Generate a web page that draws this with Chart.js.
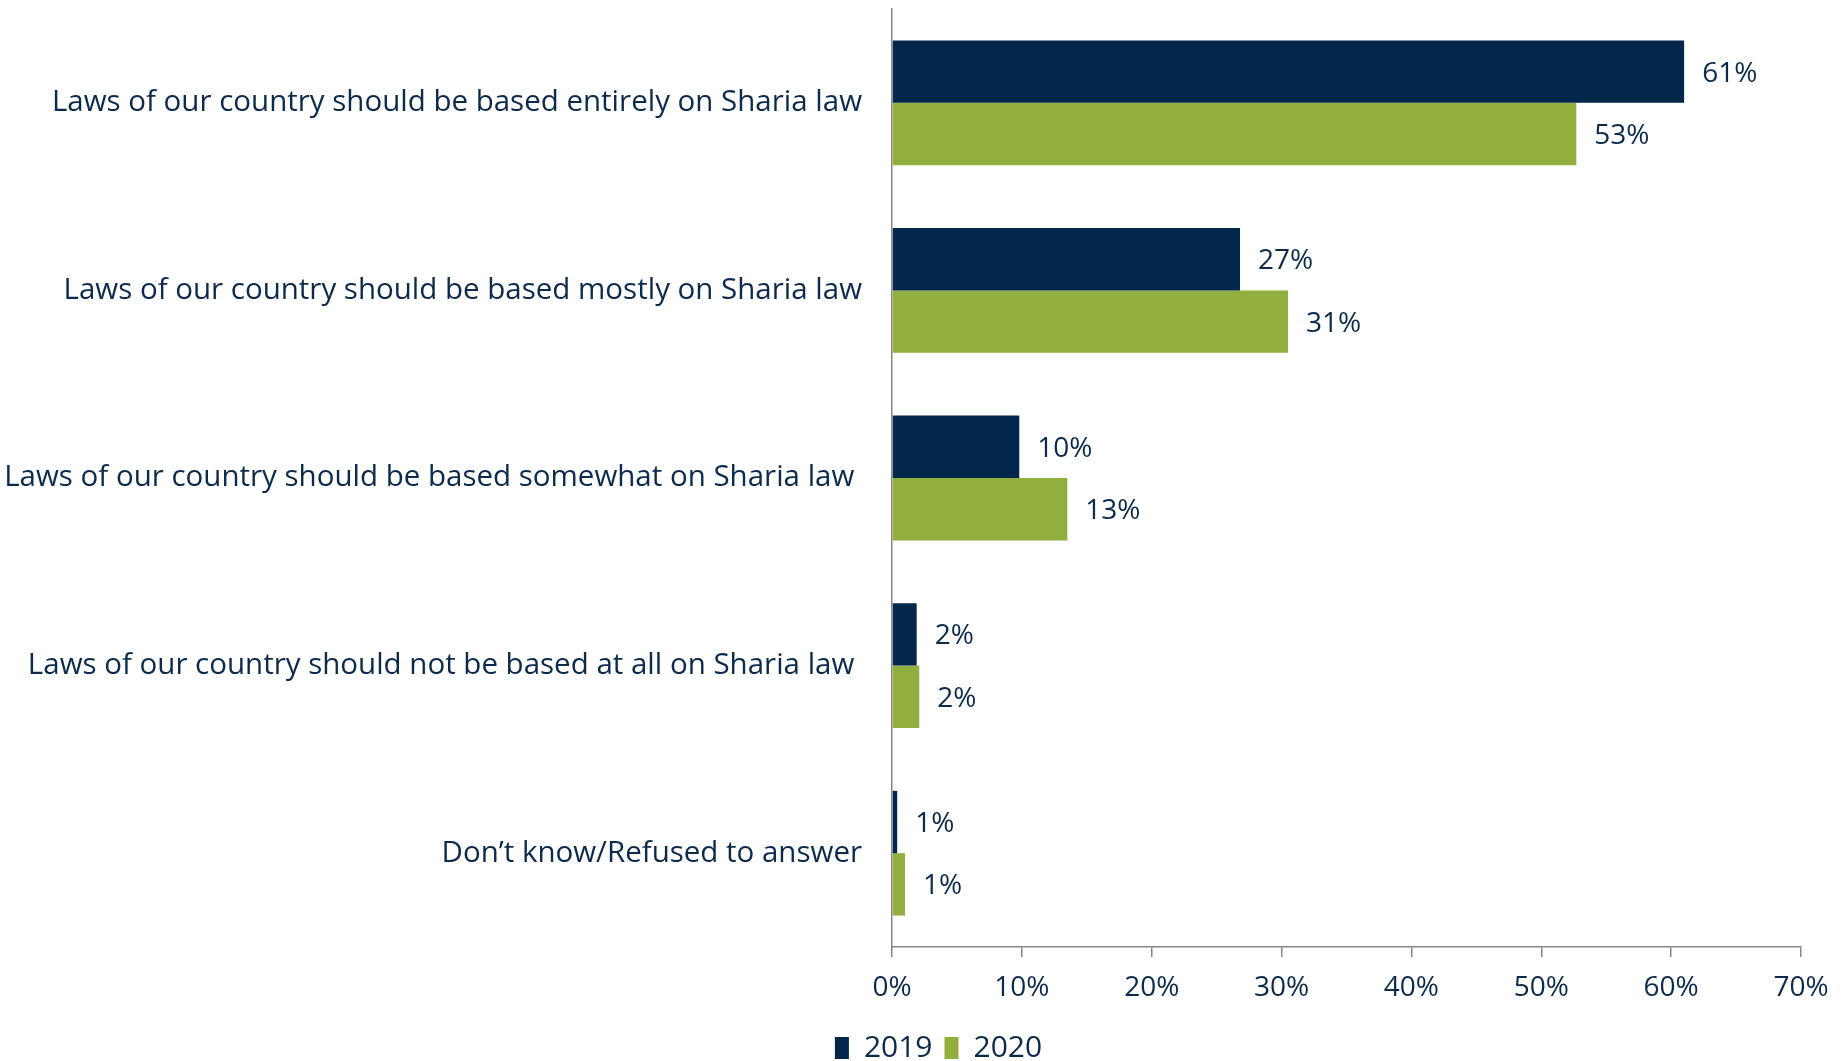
<!DOCTYPE html>
<html>
<head>
<meta charset="utf-8">
<script src="https://cdn.jsdelivr.net/npm/chart.js@4.4.0/dist/chart.umd.min.js"></script>
<style>
html,body{margin:0;padding:0;background:#fff;}
#wrap{width:1847px;height:1061px;}
</style>
</head>
<body>
<div id="wrap"><canvas id="c" width="1847" height="1061"></canvas></div>
<script>
const categories = [
  "Laws of our country should be based entirely on Sharia law",
  "Laws of our country should be based mostly on Sharia law",
  "Laws of our country should be based somewhat on Sharia law ",
  "Laws of our country should not be based at all on Sharia law ",
  "Don\u2019t know/Refused to answer"
];
const values2019 = [61.0, 26.8, 9.8, 1.9, 0.4];
const values2020 = [52.7, 30.5, 13.5, 2.1, 1.0];
const labels2019 = ["61%", "27%", "10%", "2%", "1%"];
const labels2020 = ["53%", "31%", "13%", "2%", "1%"];
const xTicks = [0, 10, 20, 30, 40, 50, 60, 70];

const NAVY = '#02274A';
const GREEN = '#92AE3F';
const TEXT = '#0C2A4B';
const AXIS = '#868686';
const FONT = "'Open Sans', 'DejaVu Sans', sans-serif";
const NUMFONT = "'Open Sans', 'DejaVu Sans', sans-serif";

const valueLabels = {
  id: 'valueLabels',
  afterDatasetsDraw(chart) {
    const ctx = chart.ctx;
    const sets = [labels2019, labels2020];
    ctx.save();
    ctx.font = "28px " + NUMFONT;
    ctx.fillStyle = TEXT;
    ctx.textAlign = 'left';
    ctx.textBaseline = 'middle';
    chart.data.datasets.forEach((ds, di) => {
      const meta = chart.getDatasetMeta(di);
      meta.data.forEach((bar, i) => {
        ctx.fillText(sets[di][i], bar.x + 18, bar.y + 2);
      });
    });
    ctx.restore();
  }
};

const legendShift = {
  id: 'legendShift',
  afterLayout(chart) {
    const lg = chart.legend;
    if (!lg) return;
    const dx = 38, dy = 12;
    lg.left += dx; lg.right += dx;
    lg.top += dy; lg.bottom += dy;
  }
};

new Chart(document.getElementById('c'), {
  type: 'bar',
  data: {
    labels: categories,
    datasets: [
      { label: '2019', data: values2019, backgroundColor: NAVY, borderWidth: 0 },
      { label: '2020', data: values2020, backgroundColor: GREEN, borderWidth: 0 }
    ]
  },
  options: {
    indexAxis: 'y',
    responsive: false,
    animation: false,
    layout: { padding: { top: 9, right: 46, left: 0, bottom: 0 } },
    datasets: { bar: { categoryPercentage: 0.665, barPercentage: 1.0 } },
    scales: {
      x: {
        min: 0, max: 70,
        afterBuildTicks(scale) { scale.ticks = xTicks.map(v => ({ value: v })); },
        grid: { drawOnChartArea: false, drawTicks: true, tickLength: 10, color: AXIS, lineWidth: 1.5 },
        border: { display: true, color: AXIS, width: 1.5 },
        ticks: {
          padding: 14,
          color: TEXT,
          font: { family: NUMFONT, size: 28 },
          callback: (v) => v + '%'
        },
        afterFit(scale) { scale.height = 62; scale.paddingLeft = 0; }
      },
      y: {
        grid: { drawOnChartArea: false, drawTicks: false },
        border: { display: true, color: AXIS, width: 1.5 },
        ticks: {
          padding: 30,
          color: TEXT,
          font: { family: FONT, size: 29.5 }
        },
        afterFit(scale) { scale.width = 892; scale.paddingTop = 0; scale.paddingBottom = 0; }
      }
    },
    plugins: {
      legend: {
        position: 'bottom',
        labels: {
          color: TEXT,
          boxWidth: 14,
          boxHeight: 22,
          padding: 12,
          font: { family: NUMFONT, size: 30 }
        }
      },
      tooltip: { enabled: false }
    }
  },
  plugins: [valueLabels, legendShift]
});
</script>
</body>
</html>
